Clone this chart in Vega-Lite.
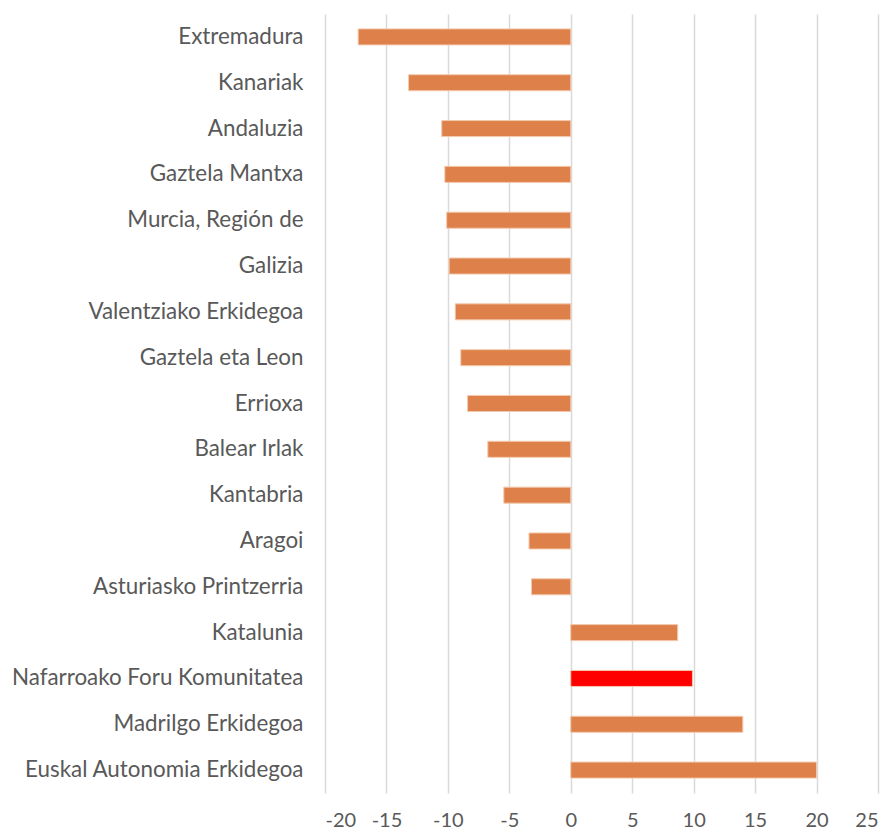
{
  "$schema": "https://vega.github.io/schema/vega-lite/v6.json",
  "width": 553,
  "height": 779,
  "autosize": "none",
  "padding": {"left": 325, "top": 14, "right": 17, "bottom": 41},
  "background": "white",
  "config": {"view": {"stroke": null}},
  "data": {
    "values": [
      {"region": "Extremadura", "value": -17.3},
      {"region": "Kanariak", "value": -13.2},
      {"region": "Andaluzia", "value": -10.5},
      {"region": "Gaztela Mantxa", "value": -10.25},
      {"region": "Murcia, Región de", "value": -10.1},
      {"region": "Galizia", "value": -9.9},
      {"region": "Valentziako Erkidegoa", "value": -9.4},
      {"region": "Gaztela eta Leon", "value": -8.95},
      {"region": "Errioxa", "value": -8.4},
      {"region": "Balear Irlak", "value": -6.75},
      {"region": "Kantabria", "value": -5.45},
      {"region": "Aragoi", "value": -3.4},
      {"region": "Asturiasko Printzerria", "value": -3.2},
      {"region": "Katalunia", "value": 8.7},
      {"region": "Nafarroako Foru Komunitatea", "value": 9.9},
      {"region": "Madrilgo Erkidegoa", "value": 14.0},
      {"region": "Euskal Autonomia Erkidegoa", "value": 20.0}
    ]
  },
  "mark": {"type": "bar", "stroke": "#F4C9AE", "strokeWidth": 1},
  "encoding": {
    "y": {
      "field": "region", "type": "nominal", "sort": null,
      "scale": {"paddingInner": 0.65, "paddingOuter": 0.325},
      "axis": {
        "title": null, "domain": false, "ticks": false, "grid": false,
        "labelPadding": 22, "labelFont": "Lato", "labelFontSize": 22.4,
        "labelColor": "#595959", "labelLimit": 400
      }
    },
    "x": {
      "field": "value", "type": "quantitative",
      "scale": {"domain": [-20, 25], "nice": false, "zero": false},
      "axis": {
        "title": null, "values": [-20, -15, -10, -5, 0, 5, 10, 15, 20, 25],
        "labelExpr": "datum.value + ''",
        "domain": false, "ticks": false, "grid": true,
        "gridColor": "#D9D9D9", "gridWidth": 1.5,
        "labelPadding": 27, "labelFont": "Lato", "labelFontSize": 20,
        "labelColor": "#595959", "labelBaseline": "middle"
      }
    },
    "color": {
      "condition": {"test": "datum.region === 'Nafarroako Foru Komunitatea'", "value": "#FF0000"},
      "value": "#DE8049"
    }
  }
}
